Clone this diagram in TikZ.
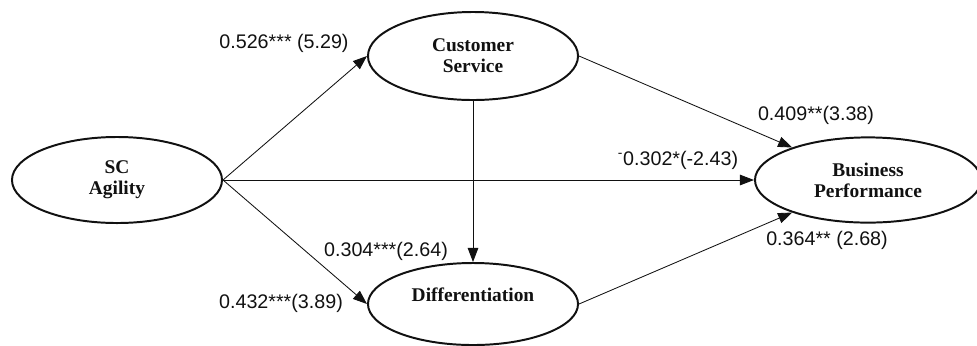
\documentclass[tikz,border=0pt]{standalone}
\usepackage{fontspec}
\setmainfont{Liberation Serif}
\newfontfamily\coeffont{Liberation Sans}
\usetikzlibrary{arrows.meta,shapes.geometric}
\definecolor{ink}{HTML}{111111}
\tikzset{
  latent/.style={ellipse, draw=ink, line width=1.4pt, minimum width=5.25cm, minimum height=2.15cm,
    inner sep=0pt, align=center, text=ink, font=\fontsize{13.8}{15}\selectfont\bfseries},
  title/.style={text=ink, inner sep=0pt, font=\fontsize{13.8}{15}\selectfont\bfseries},
  path/.style={draw=ink, line width=0.6pt, -{Triangle[length=10pt,width=7.5pt]}},
  coef/.style={text=ink, inner sep=0pt, font=\coeffont\fontsize{14}{16}\selectfont},
}
\begin{document}
\begin{tikzpicture}[x=0.025cm, y=-0.025cm]
  \useasboundingbox (0,0) rectangle (977,345);
  % constructs
  \node[latent] (sc) at (117,180) {SC\\Agility};
  \node[latent, minimum height=2.2cm] (cs) at (473,56) {Customer\\Service};
  \node[latent, minimum height=2.05cm] (diff) at (473,304) {};
  \node[title] (difftext) at (473,295) {Differentiation};
  \node[latent, minimum width=5.65cm, minimum height=2.13cm] (bp) at (868,180) {Business\\Performance};
  % paths
  \draw[path] (sc.east) -- (cs.west);
  \draw[path] (sc.east) -- (diff.west);
  \draw[path] (sc.east) -- (bp.west);
  \draw[path] (cs.south) -- (diff.north);
  \draw[path] (cs.east) -- (bp);
  \draw[path] (diff.east) -- (bp);
  % coefficients
  \node[coef] (c1) at (284,43) {0.526*** (5.29)};
  \node[coef] (c2) at (386,251) {0.304***(2.64)};
  \node[coef] (c3) at (281,303) {0.432***(3.89)};
  \node[coef] (c4) at (816,115) {0.409**(3.38)};
  \node[coef] (c5) at (678,160) {\textsuperscript{-}0.302*(-2.43)};
  \node[coef] (c6) at (827,240) {0.364** (2.68)};
\end{tikzpicture}
\end{document}
